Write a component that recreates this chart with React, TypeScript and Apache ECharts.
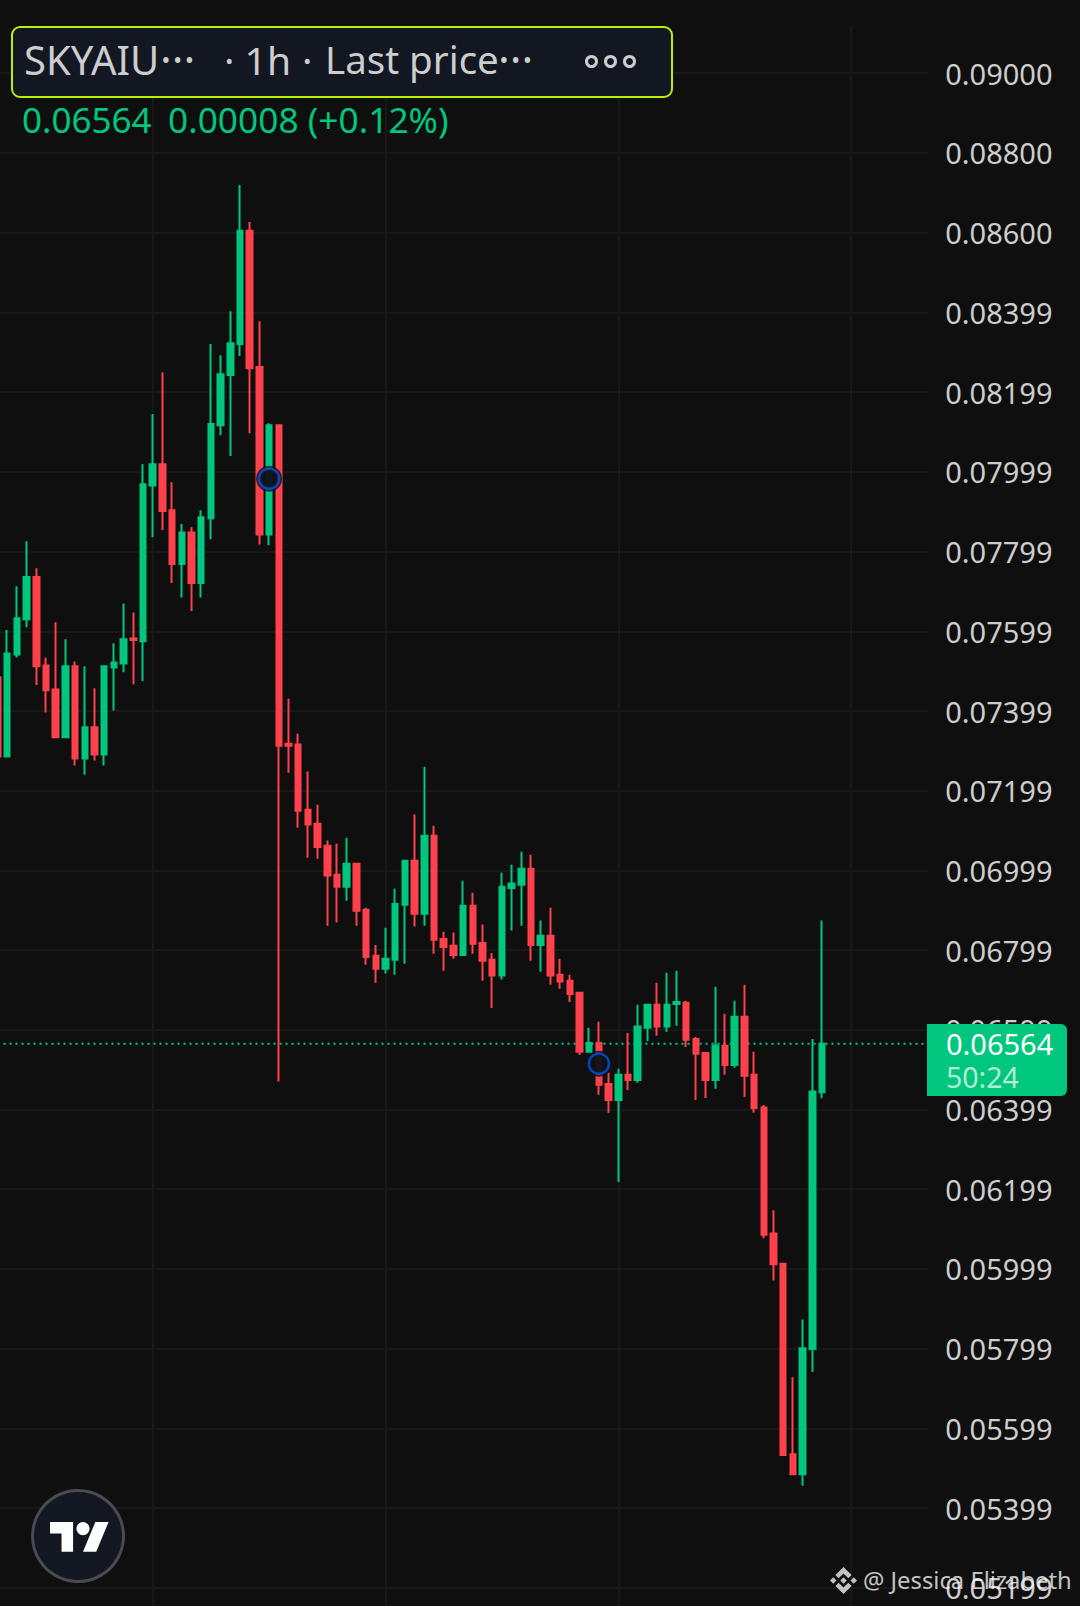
import React, { useEffect, useRef } from "react";
import * as echarts from "echarts";

const opens = [
  0.07484, 0.07285, 0.07541, 0.07629, 0.07735, 0.07513, 0.07453, 0.07333, 0.07511, 0.0728,
  0.07358, 0.0729, 0.07508, 0.07518, 0.07581, 0.07574, 0.07965, 0.08018, 0.07903, 0.07768,
  0.07847, 0.0772, 0.07883, 0.08116, 0.08242, 0.0832, 0.08604, 0.08262, 0.07842, 0.08116,
  0.07317, 0.07315, 0.07151, 0.07116, 0.07061, 0.06988, 0.06958, 0.07016, 0.069, 0.06785,
  0.06752, 0.06775, 0.06913, 0.07023, 0.0689, 0.07086, 0.06827, 0.0681, 0.06787, 0.0691,
  0.06817, 0.06775, 0.06735, 0.06955, 0.06963, 0.07003, 0.06812, 0.06835, 0.06737, 0.06722,
  0.06692, 0.06544, 0.06566, 0.06463, 0.06423, 0.06486, 0.06473, 0.06604, 0.06662, 0.06607,
  0.06664, 0.06667, 0.06576, 0.06541, 0.06473, 0.06559, 0.06511, 0.06632, 0.06486, 0.06404,
  0.06088, 0.06012, 0.05534, 0.05484, 0.05798, 0.06442,
];
const closes = [
  0.07285, 0.07543, 0.07632, 0.07735, 0.07511, 0.07451, 0.07333, 0.07511, 0.0728, 0.07358,
  0.0729, 0.07511, 0.07521, 0.07579, 0.07577, 0.07968, 0.08018, 0.07901, 0.07768, 0.07847,
  0.0772, 0.07885, 0.08119, 0.08244, 0.08322, 0.08604, 0.08259, 0.07842, 0.08116, 0.07312,
  0.07312, 0.07149, 0.07114, 0.07058, 0.06986, 0.06958, 0.07016, 0.06898, 0.06782, 0.06752,
  0.06777, 0.06915, 0.07023, 0.0689, 0.07086, 0.06825, 0.06807, 0.06787, 0.0691, 0.06815,
  0.06772, 0.06735, 0.06958, 0.06966, 0.07003, 0.06812, 0.06835, 0.06735, 0.0672, 0.06689,
  0.06544, 0.06566, 0.06461, 0.06423, 0.06486, 0.06473, 0.06607, 0.06662, 0.06607, 0.06662,
  0.06669, 0.06574, 0.06539, 0.06473, 0.06559, 0.06511, 0.06632, 0.06484, 0.06403, 0.06085,
  0.06011, 0.05532, 0.05484, 0.058, 0.06444, 0.06564,
];
const lows = [
  0.07285, 0.07285, 0.07533, 0.07609, 0.07464, 0.07395, 0.07331, 0.07333, 0.07262, 0.07239,
  0.07275, 0.07262, 0.074, 0.07496, 0.07466, 0.07474, 0.07835, 0.07853, 0.0772, 0.07684,
  0.0765, 0.07684, 0.0783, 0.08091, 0.08039, 0.0829, 0.08096, 0.07817, 0.07815, 0.06469,
  0.07244, 0.07106, 0.07031, 0.07028, 0.0686, 0.06868, 0.06923, 0.0686, 0.06762, 0.06717,
  0.0674, 0.06737, 0.06765, 0.06858, 0.0686, 0.0679, 0.06747, 0.06777, 0.06787, 0.0679,
  0.06722, 0.06654, 0.06725, 0.06848, 0.0686, 0.06772, 0.06745, 0.06712, 0.06702, 0.06669,
  0.06536, 0.06544, 0.06436, 0.06391, 0.06217, 0.06448, 0.06466, 0.06571, 0.06584, 0.06594,
  0.06609, 0.06556, 0.06423, 0.06428, 0.06451, 0.06486, 0.06504, 0.06431, 0.06391, 0.06076,
  0.0597, 0.0553, 0.05481, 0.05455, 0.0574, 0.06427,
];
const highs = [
  0.07484, 0.07602, 0.07712, 0.07825, 0.07757, 0.07533, 0.07622, 0.07579, 0.07523, 0.07511,
  0.07456, 0.07511, 0.07569, 0.07669, 0.07646, 0.08018, 0.08144, 0.08249, 0.07973, 0.07868,
  0.0786, 0.07903, 0.0832, 0.08292, 0.08402, 0.08719, 0.08626, 0.08377, 0.08121, 0.08116,
  0.0743, 0.07342, 0.07247, 0.07164, 0.07074, 0.07066, 0.07081, 0.07018, 0.06905, 0.06812,
  0.06855, 0.06953, 0.07023, 0.07139, 0.07259, 0.07111, 0.06845, 0.06843, 0.06973, 0.06943,
  0.06863, 0.06792, 0.06993, 0.07013, 0.07046, 0.07038, 0.06873, 0.06905, 0.06777, 0.06737,
  0.06694, 0.06604, 0.06619, 0.06491, 0.06501, 0.06591, 0.06662, 0.06662, 0.06717, 0.06742,
  0.06747, 0.06672, 0.06581, 0.06541, 0.06707, 0.06639, 0.06672, 0.06712, 0.06544, 0.0641,
  0.06146, 0.06012, 0.05727, 0.05872, 0.06576, 0.06873,
];
const tickLabels = [
  "0.05199", "0.05399", "0.05599", "0.05799", "0.05999", "0.06199", "0.06399",
  "0.06599", "0.06799", "0.06999", "0.07199", "0.07399", "0.07599", "0.07799",
  "0.07999", "0.08199", "0.08399", "0.08600", "0.08800", "0.09000",
];
const slotCount = 97;
const verticalGridSlots = [16, 40, 64, 88];
const markerSlots = [28, 62];
const markerPrices = [0.07982, 0.06514];
const lastPrice = 0.06564;
const lastPriceLabel = "0.06564";
const countdown = "50:24";
const changeLabel = "0.00008 (+0.12%)";

const UP = "#00C77D";
const DOWN = "#FF414C";
const BG = "#0F0F0F";
const GRID = "#181818";
const TEXT = "#CDCDCD";
const FONT = '"Noto Sans", "Open Sans", sans-serif';

const TV_D = "M14 22H7V11H0V4h14v18zM28 22h-8l7.5-18h8L28 22zM24 8a4 4 0 1 1-8 0a4 4 0 0 1 8 0z";
const BN_D =
  "M12 2L18 8L15.6 10.4L12 6.8L8.4 10.4L6 8ZM12 22L18 16L15.6 13.6L12 17.2L8.4 13.6L6 16ZM12 9.6L14.4 12L12 14.4L9.6 12ZM2 12L4.4 9.6L6.8 12L4.4 14.4ZM22 12L19.6 9.6L17.2 12L19.6 14.4Z";
echarts.graphic.registerShape("tvLogo", echarts.graphic.extendPath(TV_D, {}) as any);
echarts.graphic.registerShape("bnLogo", echarts.graphic.extendPath(BN_D, {}) as any);

function label(text: string, x: number, y: number, fontSize: number, fill: string) {
  return {
    type: "text",
    z: 100,
    silent: true,
    style: { text, x, y, fontSize, fontFamily: FONT, fill, textAlign: "left", textVerticalAlign: "middle" },
  };
}

export default function App() {
  const ref = useRef<HTMLDivElement>(null);
  useEffect(() => {
    document.body.style.margin = "0";
    document.body.style.background = BG;
    const chart = echarts.init(ref.current!, undefined, { renderer: "svg" });
    const candles = opens.map((o, i) => [o, closes[i], lows[i], highs[i]]);
    const markers = markerSlots.map((s, i) => [s, markerPrices[i]]);
    chart.setOption({
      animation: false,
      backgroundColor: BG,
      grid: { left: -2.5, right: 151.3, top: 0, bottom: 0, containLabel: false, outerBoundsMode: "none" },
      xAxis: {
        type: "category",
        boundaryGap: false,
        data: Array.from({ length: slotCount }, (_, i) => String(i)),
        axisLine: { show: false },
        axisTick: { show: false },
        axisLabel: { show: false },
        splitLine: {
          show: true,
          interval: (i: number) => verticalGridSlots.includes(i),
          lineStyle: { color: GRID, width: 2 },
        },
      },
      yAxis: {
        type: "value",
        position: "right",
        min: 0.051531,
        max: 0.091832,
        axisLine: { show: false },
        axisTick: { show: false, customValues: tickLabels.map(Number) },
        axisLabel: {
          customValues: tickLabels.map(Number),
          formatter: (v: number) => v.toFixed(5),
          color: TEXT,
          fontSize: 29,
          fontFamily: FONT,
          margin: 16.5,
          align: "left",
        },
        splitLine: { show: true, lineStyle: { color: GRID, width: 2 } },
      },
      series: [
        {
          type: "line",
          data: [[0, lastPrice], [slotCount - 1, lastPrice]],
          symbol: "none",
          silent: true,
          z: 1,
          lineStyle: { color: UP, type: [2, 4], width: 2 },
        },
        {
          type: "candlestick",
          data: candles,
          barWidth: 6,
          clip: true,
          z: 2,
          itemStyle: { color: UP, color0: DOWN, borderColor: UP, borderColor0: DOWN, borderWidth: 2 },
        },
        {
          type: "scatter",
          data: markers,
          symbol: "circle",
          symbolSize: 26,
          z: 5,
          silent: true,
          itemStyle: { color: BG },
        },
        {
          type: "scatter",
          data: markers,
          symbol: "circle",
          symbolSize: 20,
          z: 6,
          silent: true,
          itemStyle: { color: "#10121A", borderColor: "#0052E6", borderWidth: 2.5 },
        },
      ],
      graphic: [
        {
          type: "rect",
          z: 50,
          silent: true,
          shape: { x: 0, y: 0, width: 930, height: 26 },
          style: { fill: BG },
        },
        {
          type: "rect",
          z: 99,
          silent: true,
          shape: { x: 12, y: 27, width: 660, height: 70, r: 8 },
          style: { fill: "#131722", stroke: "#B8F000", lineWidth: 2 },
        },
        label("SKYAIU", 24, 59, 40, TEXT),
        label("···", 160, 59, 44, TEXT),
        label("· 1h", 224, 59, 39, TEXT),
        label("·", 302, 59, 39, TEXT),
        label("Last price", 325, 59, 38.5, TEXT),
        label("···", 498, 59, 44, TEXT),
        ...[591.5, 610.5, 629.5].map((cx) => ({
          type: "circle",
          z: 100,
          silent: true,
          shape: { cx, cy: 61.5, r: 5 },
          style: { fill: "none", stroke: TEXT, lineWidth: 3 },
        })),
        label(lastPriceLabel, 22, 119, 35, UP),
        label(changeLabel, 168, 119, 35.3, UP),
        {
          type: "rect",
          z: 99,
          silent: true,
          shape: { x: 927, y: 1024, width: 140, height: 72, r: [0, 6, 6, 0] },
          style: { fill: UP },
        },
        label(lastPriceLabel, 946, 1043, 29, "#FFFFFF"),
        label(countdown, 946, 1077, 28.5, "#B0EDD6"),
        {
          type: "circle",
          z: 99,
          silent: true,
          shape: { cx: 78, cy: 1536, r: 45.5 },
          style: { fill: "#131722", stroke: "#4A4A52", lineWidth: 3 },
        },
        {
          type: "tvLogo",
          z: 100,
          silent: true,
          x: 50,
          y: 1515.4,
          scaleX: 1.65,
          scaleY: 1.65,
          style: { fill: "#FFFFFF" },
        },
        {
          type: "bnLogo",
          z: 100,
          silent: true,
          x: 827.3,
          y: 1564.3,
          scaleX: 1.35,
          scaleY: 1.35,
          style: { fill: "rgba(255,255,255,0.75)" },
        },
        label("@ Jessica Elizabeth", 863, 1580, 23.8, "rgba(255,255,255,0.75)"),
      ],
    });
    return () => chart.dispose();
  }, []);
  return <div ref={ref} style={{ position: "absolute", left: 0, top: 0, width: 1080, height: 1606, overflow: "hidden" }} />;
}
